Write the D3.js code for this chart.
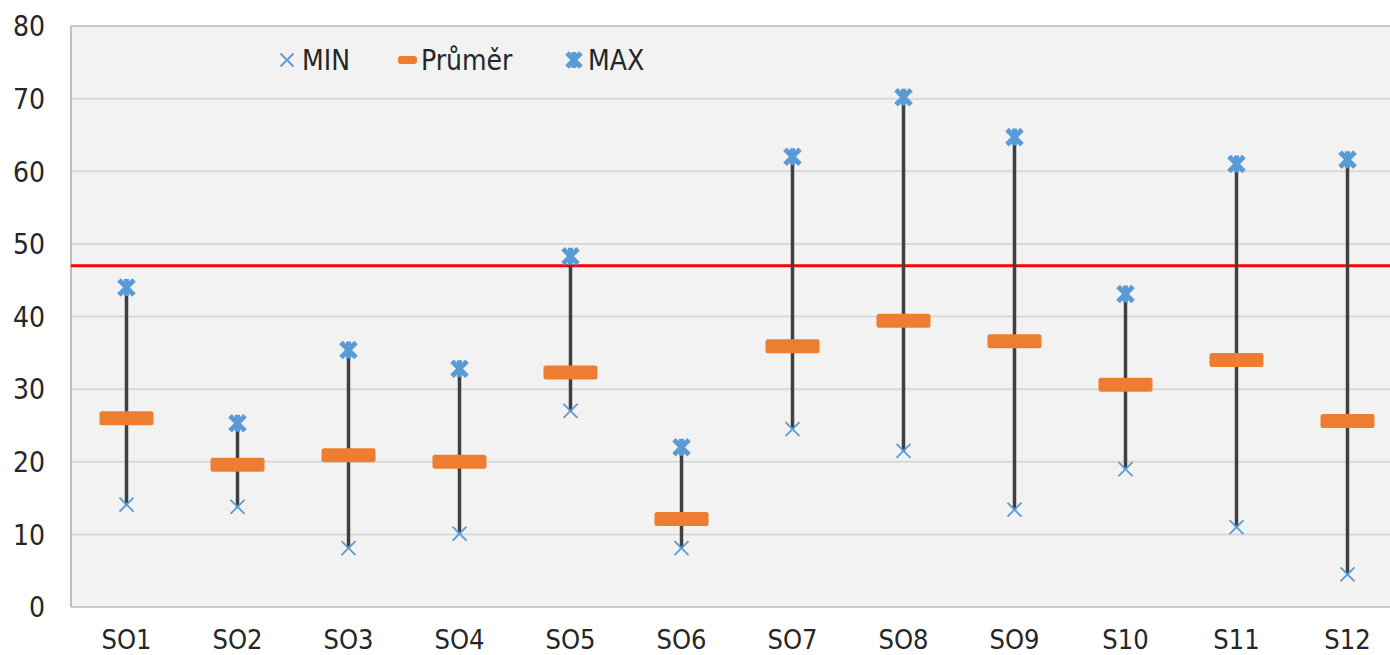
<!DOCTYPE html>
<html>
<head>
<meta charset="utf-8">
<script src="https://cdn.jsdelivr.net/npm/d3@7"></script>
<style>
  html, body { margin: 0; padding: 0; background: #ffffff; }
  svg { display: block; }
  text { font-family: "DejaVu Sans Condensed", "Liberation Sans Narrow", sans-serif; fill: #262626; }
</style>
</head>
<body>
<svg id="chart" width="1390" height="655"></svg>
<script>
const categories = ["SO1","SO2","SO3","SO4","SO5","SO6","SO7","SO8","SO9","S10","S11","S12"];
const minValues  = [14.1, 13.8, 8.1, 10.1, 27.0, 8.1, 24.5, 21.5, 13.4, 19.0, 11.0, 4.5];
const meanValues = [26.0, 19.6, 20.9, 20.0, 32.3, 12.1, 35.9, 39.4, 36.6, 30.6, 34.0, 25.6];
const maxValues  = [44.0, 25.3, 35.4, 32.8, 48.3, 22.0, 62.0, 70.2, 64.7, 43.1, 61.0, 61.6];
const limitValue = 47;
const yTicks = [0, 10, 20, 30, 40, 50, 60, 70, 80];
const seriesNames = ["MIN", "Průměr", "MAX"];

(function () {
const svg = d3.select("#chart");
const W = 1390, H = 655;
const pLeft = 71, pTop = 26, pBottom = 607, bandStep = 111;

const x = d3.scaleBand().domain(categories).range([pLeft, pLeft + categories.length * bandStep]).padding(0);
const y = d3.scaleLinear().domain([0, 80]).range([pBottom, pTop]);
const cx = c => x(c) + x.bandwidth() / 2;

const blue = "#5b9bd5", orange = "#ed7d31", dark = "#404040";

// plot background
svg.append("rect").attr("x", pLeft).attr("y", pTop)
  .attr("width", W - pLeft).attr("height", pBottom - pTop).attr("fill", "#f2f2f2");

// gridlines
svg.append("g").selectAll("line").data(yTicks.filter(t => t > 0 && t < 80)).join("line")
  .attr("x1", pLeft).attr("x2", W).attr("y1", d => y(d)).attr("y2", d => y(d))
  .attr("stroke", "#d9d9d9").attr("stroke-width", 2);

// top border & axes
svg.append("line").attr("x1", pLeft).attr("x2", W).attr("y1", y(80)).attr("y2", y(80))
  .attr("stroke", "#c8c8c8").attr("stroke-width", 2);
svg.append("line").attr("x1", pLeft).attr("x2", W).attr("y1", y(0)).attr("y2", y(0))
  .attr("stroke", "#c8c8c8").attr("stroke-width", 2);
svg.append("line").attr("x1", pLeft).attr("x2", pLeft).attr("y1", pTop).attr("y2", pBottom)
  .attr("stroke", "#bfbfbf").attr("stroke-width", 2);

// y axis labels
const yAxis = d3.axisLeft(y).tickValues(yTicks).tickSize(0).tickPadding(26);
const gy = svg.append("g").attr("transform", `translate(${pLeft},0)`).call(yAxis);
gy.select(".domain").remove();
gy.attr("font-family", null).attr("font-size", null);
gy.selectAll("text").style("font-size", "28px").attr("fill", "#262626").attr("dy", "0.35em");

// x axis labels
const xAxis = d3.axisBottom(x).tickSize(0).tickPadding(23);
const gx = svg.append("g").attr("transform", `translate(0,${pBottom})`).call(xAxis);
gx.select(".domain").remove();
gx.attr("font-family", null).attr("font-size", null);
gx.selectAll("text").style("font-size", "27px").attr("fill", "#262626").attr("dy", "0.71em");

// limit line
svg.append("line").attr("x1", pLeft).attr("x2", W).attr("y1", y(limitValue)).attr("y2", y(limitValue))
  .attr("stroke", "#ff0000").attr("stroke-width", 3);

const data = categories.map((c, i) => ({ c, min: minValues[i], mean: meanValues[i], max: maxValues[i] }));

// whiskers
svg.append("g").selectAll("line").data(data).join("line")
  .attr("x1", d => cx(d.c)).attr("x2", d => cx(d.c))
  .attr("y1", d => y(d.min)).attr("y2", d => y(d.max))
  .attr("stroke", dark).attr("stroke-width", 3.5);

// mean bars
svg.append("g").selectAll("rect").data(data).join("rect")
  .attr("x", d => cx(d.c) - 27).attr("y", d => y(d.mean) - 7)
  .attr("width", 54).attr("height", 14).attr("rx", 2.5)
  .attr("fill", orange);

// min markers
const minPath = "M-7,-7L7,7M7,-7L-7,7";
svg.append("g").selectAll("path").data(data).join("path")
  .attr("transform", d => `translate(${cx(d.c)},${y(d.min)})`)
  .attr("d", minPath).attr("stroke", blue).attr("stroke-width", 1.8).attr("fill", "none");

// max markers
const maxPath = "M-7.5,-7.5L7.5,7.5M7.5,-7.5L-7.5,7.5M0,-8.5L0,8.5";
svg.append("g").selectAll("path").data(data).join("path")
  .attr("transform", d => `translate(${cx(d.c)},${y(d.max)})`)
  .attr("d", maxPath).attr("stroke", blue).attr("stroke-width", 5).attr("fill", "none");

// legend
const lg = svg.append("g");
lg.append("path").attr("transform", "translate(287,60)").attr("d", "M-6.5,-6.5L6.5,6.5M6.5,-6.5L-6.5,6.5")
  .attr("stroke", blue).attr("stroke-width", 1.8).attr("fill", "none");
lg.append("text").attr("x", 302).attr("y", 60).attr("dy", "0.35em").style("font-size", "28px").text(seriesNames[0]);
lg.append("rect").attr("x", 398).attr("y", 56).attr("width", 19).attr("height", 8).attr("rx", 3).attr("fill", orange);
lg.append("text").attr("x", 421).attr("y", 60).attr("dy", "0.35em").style("font-size", "28px").text(seriesNames[1]);
lg.append("path").attr("transform", "translate(574,60)").attr("d", "M-7,-7L7,7M7,-7L-7,7M0,-8L0,8")
  .attr("stroke", blue).attr("stroke-width", 5).attr("fill", "none");
lg.append("text").attr("x", 588).attr("y", 60).attr("dy", "0.35em").style("font-size", "28px").text(seriesNames[2]);
})();
</script>
</body>
</html>
